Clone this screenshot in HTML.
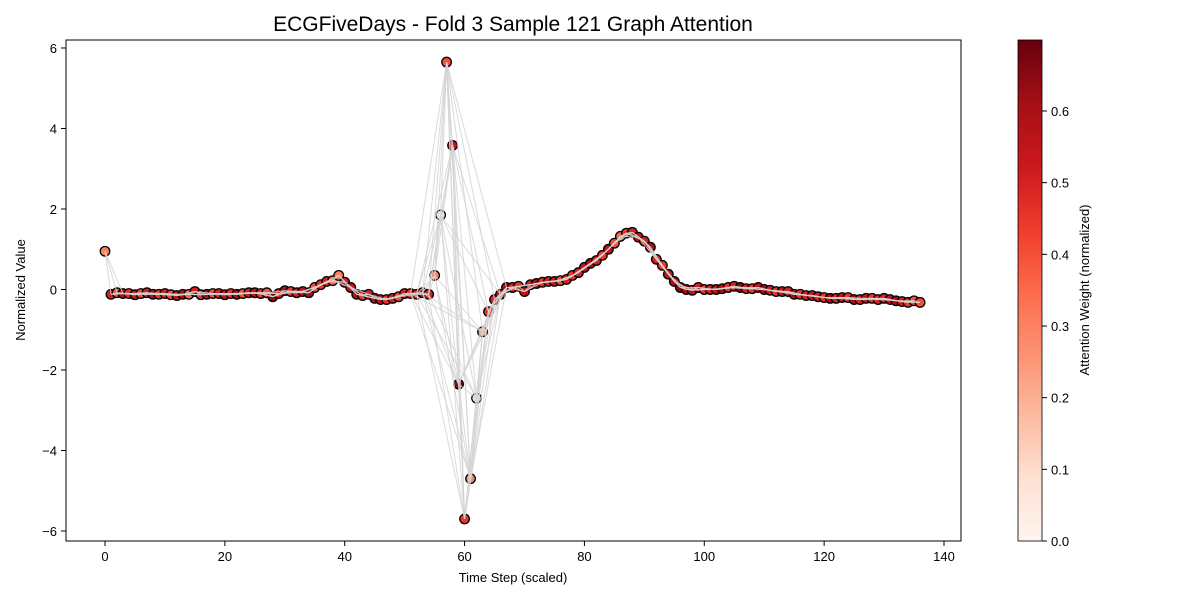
<!DOCTYPE html>
<html><head><meta charset="utf-8"><style>
body{margin:0;background:#fff;font-family:"Liberation Sans",sans-serif}
svg text{font-family:"Liberation Sans",sans-serif;fill:#000}
</style></head><body>
<svg id="c" width="1200" height="600" xmlns="http://www.w3.org/2000/svg">
<defs><linearGradient id="reds" x1="0" y1="1" x2="0" y2="0">
<stop offset="0" stop-color="#fff5f0"/><stop offset="0.125" stop-color="#fee0d2"/><stop offset="0.25" stop-color="#fcbba1"/><stop offset="0.375" stop-color="#fc9272"/><stop offset="0.5" stop-color="#fb6a4a"/><stop offset="0.625" stop-color="#ef3b2c"/><stop offset="0.75" stop-color="#cb181d"/><stop offset="0.875" stop-color="#a50f15"/><stop offset="1" stop-color="#67000d"/></linearGradient></defs>
<text x="513" y="31" font-size="21" text-anchor="middle">ECGFiveDays - Fold 3 Sample 121 Graph Attention</text>
<g id="lines"></g><g id="pts"></g>
<rect x="66" y="40" width="895" height="501" fill="none" stroke="#000" stroke-width="1"/>
<g id="axes"></g>
<text x="513" y="582" font-size="13" text-anchor="middle">Time Step (scaled)</text>
<text transform="translate(25,290) rotate(-90)" font-size="13" text-anchor="middle">Normalized Value</text>
<rect x="1018" y="40" width="24" height="501" fill="url(#reds)" stroke="#000" stroke-width="0.8"/>
<text transform="translate(1089,290) rotate(-90)" font-size="13" text-anchor="middle">Attention Weight (normalized)</text>
</svg>
<script>
const values=[0.95,
-0.12,-0.08,-0.1,-0.1,-0.13,-0.1,-0.08,-0.12,-0.12,-0.1,-0.13,-0.15,-0.12,-0.12,-0.05,-0.13,-0.12,-0.1,-0.1,-0.13,-0.1,-0.12,-0.1,-0.08,-0.08,-0.1,-0.08,
-0.18,-0.1,-0.03,-0.05,-0.08,-0.05,-0.08,0.05,0.12,0.2,0.22,0.35,0.18,0.05,-0.12,-0.15,-0.12,-0.22,-0.25,-0.25,-0.22,-0.18,-0.1,-0.1,-0.12,-0.08,-0.12,0.35,1.85,5.65,3.58,-2.35,-5.7,-4.7,-2.7,-1.05,-0.55,-0.25,-0.12,0.05,0.05,0.08,-0.05,
0.12,0.15,0.18,0.2,0.2,0.22,0.25,0.35,0.42,0.55,0.65,0.72,0.85,1.0,1.15,1.32,1.4,1.42,1.3,1.2,1.05,0.75,0.6,0.38,0.2,0.05,0.0,-0.02,0.05,0.0,
0.0,0.0,0.02,0.05,0.08,0.05,0.02,0.02,0.05,0.0,-0.02,-0.05,-0.05,-0.05,-0.12,-0.12,-0.15,-0.15,-0.18,-0.2,-0.22,-0.22,-0.2,-0.2,-0.25,-0.25,-0.22,-0.22,-0.25,-0.22,-0.25,-0.28,-0.3,-0.32,-0.28,-0.32];
const weights=[0.3,
0.5,0.4,0.6,0.45,0.55,0.4,0.5,0.6,0.45,0.5,0.4,0.55,0.6,0.35,0.5,0.45,0.6,0.4,0.5,0.55,0.45,0.6,0.4,0.5,0.55,0.45,0.4,
0.65,0.5,0.6,0.45,0.5,0.55,0.6,0.4,0.45,0.5,0.35,0.3,0.5,0.55,0.6,0.45,0.5,0.6,0.55,0.45,0.5,0.4,0.5,0.45,0.5,0.55,0.5,0.3,0.05,0.4,0.55,0.65,0.45,0.3,0.1,0.25,0.45,0.5,0.55,0.6,0.5,0.45,0.55,
0.5,0.6,0.45,0.5,0.55,0.4,0.5,0.45,0.5,0.55,0.6,0.5,0.45,0.55,0.4,0.35,0.45,0.5,0.55,0.5,0.6,0.5,0.45,0.55,0.6,0.65,0.6,0.55,0.5,0.45,
0.5,0.55,0.6,0.45,0.5,0.65,0.5,0.45,0.55,0.6,0.5,0.45,0.55,0.5,0.6,0.45,0.5,0.55,0.5,0.45,0.6,0.5,0.55,0.45,0.6,0.5,0.55,0.45,0.5,0.5,0.55,0.6,0.5,0.45,0.4,0.4];
const xTicks=[0,20,40,60,80,100,120,140];
const yTicks=[-6,-4,-2,0,2,4,6];
const cTicks=[0.0,0.1,0.2,0.3,0.4,0.5,0.6];
const X=v=>105+v*839/140, Y=v=>289.5-v*40.25, C=v=>541-v*716.7;
const NS='http://www.w3.org/2000/svg';
function mk(t,a,p){const e=document.createElementNS(NS,t);for(const k in a)e.setAttribute(k,a[k]);p.appendChild(e);return e;}
const stops=[[0,'#fff5f0'],[0.125,'#fee0d2'],[0.25,'#fcbba1'],[0.375,'#fc9272'],[0.5,'#fb6a4a'],[0.625,'#ef3b2c'],[0.75,'#cb181d'],[0.875,'#a50f15'],[1,'#67000d']];
function col(w){let t=Math.max(0,Math.min(1,w/0.7));for(let i=1;i<stops.length;i++){if(t<=stops[i][0]){const a=stops[i-1],b=stops[i],f=(t-a[0])/(b[0]-a[0]);const h=s=>[1,3,5].map(j=>parseInt(s.substr(j,2),16));const A=h(a[1]),B=h(b[1]);return 'rgb('+A.map((v,k)=>Math.round(v+(B[k]-v)*f)).join(',')+')';}}return '#67000d';}
const ax=document.getElementById('axes'),L=document.getElementById('lines'),P=document.getElementById('pts');
xTicks.forEach(v=>{const g=mk('g',{},ax);


mk('line',{x1:X(v),x2:X(v),y1:541,y2:546,stroke:'#000'},g);const t=mk('text',{x:X(v),y:561,'font-size':13,'text-anchor':'middle'},g);t.textContent=v;});
yTicks.forEach(v=>{const g=mk('g',{},ax);


mk('line',{x1:61,x2:66,y1:Y(v),y2:Y(v),stroke:'#000'},g);const t=mk('text',{x:57,y:Y(v)+5,'font-size':13,'text-anchor':'end'},g);t.textContent=(v<0?'\u2212'+(-v):v);});
cTicks.forEach(v=>{const g=mk('g',{},ax);


mk('line',{x1:1042,x2:1047,y1:C(v),y2:C(v),stroke:'#000'},g);const t=mk('text',{x:1051,y:C(v)+5,'font-size':13},g);t.textContent=v.toFixed(1);});
values.forEach((v,i)=>{const c=mk('circle',{cx:X(i),cy:Y(v),r:4.8,fill:col(weights[i]),stroke:'#000','stroke-width':1.3},P);

});
const n=values.length,edges=[];
for(let i=0;i<n;i++){for(let d=1;d<=3;d++)if(i+d<n)edges.push([i,i+d]);}
for(let i=51;i<=67;i++)for(let j=i+4;j<=67;j++){const sp=(i>=56&&i<=63)||(j>=56&&j<=63);if(sp&&(i+j)%2==0)edges.push([i,j]);}
edges.forEach(([a,b])=>{const l=mk('line',{x1:X(a),y1:Y(values[a]),x2:X(b),y2:Y(values[b]),stroke:'#d3d3d3','stroke-width':1,'stroke-opacity':0.85},L);

});
document.getElementById('c').appendChild(L);
</script>
</body></html>
